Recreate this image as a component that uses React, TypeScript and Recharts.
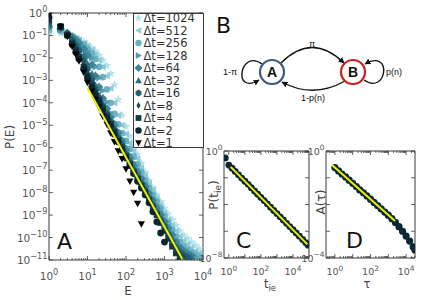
import React from 'react';
import { ComposedChart, Scatter, Line, XAxis, YAxis, ReferenceArea } from 'recharts';

// ---------- panel A: P(E) for window sizes 1..1024 ----------
const energyBins = [1, 2, 3, 4, 5, 6, 8, 10, 13, 16, 20, 25, 32, 40, 50, 63, 79, 100, 126, 158, 200, 251, 316, 398, 501, 631, 794, 1000, 1259, 1585, 1995, 2512, 3162, 3981, 5012, 6310, 7943];

const pE_dt1024 = [1.3e-1, 1.3e-1, 1e-1, 8.9e-2, 7.9e-2, 7.1e-2, 5.0e-2, 4.0e-2, 2.8e-2, 2.0e-2, 1.3e-2, 7.9e-3, 4.5e-3, 2.0e-3, 6.3e-4, 1.4e-4, 2.8e-5, 8.9e-6, 3.2e-6, 1.3e-6, 5.0e-7, 2.0e-7, 7.9e-8, 3.5e-8, 1.6e-8, 7.9e-9, 4.0e-9, 2.0e-9, 1.1e-9, 6.3e-10, 3.5e-10, 2.0e-10, 1.3e-10, 8.9e-11, 6.3e-11, 4.5e-11, 3.2e-11];
const pE_dt512 = [1.6e-1, 1.4e-1, 1.1e-1, 8.9e-2, 7.1e-2, 6.3e-2, 4.5e-2, 3.2e-2, 2.2e-2, 1.4e-2, 7.9e-3, 4.0e-3, 1.6e-3, 4.5e-4, 1e-4, 2.8e-5, 1e-5, 4.0e-6, 1.6e-6, 7.1e-7, 3.2e-7, 1.3e-7, 5.6e-8, 2.5e-8, 1.3e-8, 5.6e-9, 2.8e-9, 1.3e-9, 6.3e-10, 3.5e-10, 2.0e-10, 1.1e-10, 7.1e-11, 5.0e-11, 3.5e-11, 2.5e-11, 2.0e-11];
const pE_dt256 = [1.8e-1, 1.6e-1, 1.1e-1, 8.9e-2, 7.1e-2, 5.6e-2, 4.0e-2, 2.5e-2, 1.6e-2, 8.9e-3, 4.0e-3, 1.4e-3, 4.0e-4, 1e-4, 3.2e-5, 1.1e-5, 4.5e-6, 2.0e-6, 8.9e-7, 4.0e-7, 1.8e-7, 7.9e-8, 3.5e-8, 1.6e-8, 7.9e-9, 4.0e-9, 2.0e-9, 8.9e-10, 4.5e-10, 2.2e-10, 1.1e-10, 6.3e-11, 4.0e-11, 2.8e-11, 2.2e-11, 1.8e-11, 1.4e-11];
const pE_dt128 = [2.0e-1, 1.8e-1, 1.3e-1, 8.9e-2, 7.1e-2, 5.0e-2, 3.2e-2, 2.0e-2, 1e-2, 4.0e-3, 1.3e-3, 3.5e-4, 1.1e-4, 3.5e-5, 1.4e-5, 5.6e-6, 2.5e-6, 1.1e-6, 5.0e-7, 2.2e-7, 1.1e-7, 5.0e-8, 2.5e-8, 1.1e-8, 5.6e-9, 2.8e-9, 1.4e-9, 6.3e-10, 3.2e-10, 1.6e-10, 7.9e-11, 4.5e-11, 3.2e-11, 2.2e-11, 1.8e-11, 1.4e-11];
const pE_dt64 = [2.5e-1, 2.0e-1, 1.3e-1, 8.9e-2, 6.3e-2, 4.5e-2, 2.5e-2, 1.3e-2, 5.0e-3, 1.6e-3, 5.0e-4, 1.6e-4, 5.6e-5, 2.2e-5, 1e-5, 4.5e-6, 2.0e-6, 7.9e-7, 3.5e-7, 1.6e-7, 7.9e-8, 4.0e-8, 2.0e-8, 8.9e-9, 4.5e-9, 2.0e-9, 1e-9, 5.0e-10, 2.5e-10, 1.3e-10, 6.3e-11, 3.5e-11, 2.5e-11, 2.0e-11, 1.6e-11];
const pE_dt32 = [2.8e-1, 2.2e-1, 1.3e-1, 7.9e-2, 5.0e-2, 3.2e-2, 1.4e-2, 5.6e-3, 2.0e-3, 6.3e-4, 2.2e-4, 8.9e-5, 4.0e-5, 1.8e-5, 7.9e-6, 3.5e-6, 1.6e-6, 6.3e-7, 2.8e-7, 1.3e-7, 6.3e-8, 3.2e-8, 1.6e-8, 7.1e-9, 3.5e-9, 1.6e-9, 7.9e-10, 4.0e-10, 1.8e-10, 8.9e-11, 4.5e-11, 2.8e-11, 2.0e-11, 1.6e-11, 1.3e-11];
const pE_dt16 = [3.5e-1, 2.4e-1, 1.2e-1, 6.3e-2, 3.5e-2, 2.0e-2, 7.9e-3, 3.2e-3, 1.1e-3, 4.0e-4, 1.6e-4, 7.1e-5, 3.2e-5, 1.4e-5, 6.3e-6, 2.8e-6, 1.3e-6, 5.0e-7, 2.2e-7, 1e-7, 5.0e-8, 2.5e-8, 1.3e-8, 5.6e-9, 2.8e-9, 1.3e-9, 6.3e-10, 3.2e-10, 1.4e-10, 6.3e-11, 3.5e-11, 2.2e-11, 1.6e-11, 1.3e-11];
const pE_dt8 = [4.0e-1, 2.4e-1, 1.1e-1, 5.0e-2, 2.8e-2, 1.4e-2, 5.6e-3, 2.2e-3, 7.9e-4, 3.2e-4, 1.4e-4, 6.3e-5, 2.8e-5, 1.3e-5, 5.6e-6, 2.5e-6, 1.1e-6, 4.5e-7, 2.0e-7, 8.9e-8, 4.5e-8, 2.2e-8, 1.1e-8, 5.0e-9, 2.5e-9, 1.1e-9, 5.6e-10, 2.5e-10, 1.1e-10, 5.0e-11, 2.8e-11, 1.8e-11, 1.3e-11];
const pE_dt4 = [5.0e-1, 2.4e-1, 1.05e-1, 4.5e-2, 2.2e-2, 1.1e-2, 4.0e-3, 1.6e-3, 6.3e-4, 2.8e-4, 1.3e-4, 5.6e-5, 2.5e-5, 1.1e-5, 5.0e-6, 2.2e-6, 1e-6, 4.0e-7, 1.8e-7, 7.9e-8, 4.0e-8, 2.0e-8, 1e-8, 4.5e-9, 2.0e-9, 1e-9, 4.5e-10, 2.0e-10, 8.9e-11, 4.0e-11, 2.0e-11, 1.3e-11];
const pE_dt2 = [6.3e-1, 2.5e-1, 1e-1, 4.0e-2, 1.8e-2, 8.9e-3, 3.2e-3, 1.3e-3, 5.0e-4, 2.2e-4, 1e-4, 4.5e-5, 2.0e-5, 8.9e-6, 4.0e-6, 1.8e-6, 7.9e-7, 3.5e-7, 1.6e-7, 7.1e-8, 3.2e-8, 1.6e-8, 7.9e-9, 3.5e-9, 1.4e-9, 5.0e-10, 1.6e-10, 6.3e-11];
const pE_dt1 = [7.9e-1, 2.5e-1, 8.9e-2, 3.2e-2, 1.4e-2, 7.1e-3, 2.2e-3, 7.9e-4, 3.2e-4, 1.4e-4, 6.3e-5, 2.5e-5, 1.1e-5, 4.5e-6, 1.8e-6, 7.1e-7, 3.2e-7, 1.1e-7, 3.2e-8, 1e-8, 3.2e-9, 4.0e-10];

const windowLabels = ['Δt=1024', 'Δt=512', 'Δt=256', 'Δt=128', 'Δt=64', 'Δt=32', 'Δt=16', 'Δt=8', 'Δt=4', 'Δt=2', 'Δt=1'];
const windowColors = ['#b4e2ec', '#8fcbd7', '#6db2c1', '#4f9bad', '#3c8698', '#2d7080', '#235d6b', '#1a4b57', '#133a43', '#0c282e', '#030708'];
const windowMarkers = ['star', 'triLeft', 'circle', 'triRight', 'diamond', 'triUp', 'hexagon', 'thinDiamond', 'square', 'circle', 'triDown'];

const fitEnergy = [10, 3000];
const fitProb = [4.6e-4, 1e-11];

const energyTicks = [1, 2, 3, 4, 5, 6, 7, 8, 9, 10, 20, 30, 40, 50, 60, 70, 80, 90, 100, 200, 300, 400, 500, 600, 700, 800, 900, 1000, 2000, 3000, 4000, 5000, 6000, 7000, 8000, 9000, 10000];
const probTicks = [1, 1e-1, 1e-2, 1e-3, 1e-4, 1e-5, 1e-6, 1e-7, 1e-8, 1e-9, 1e-10, 1e-11];

// ---------- panel C: inter-event times ----------
const tieValues = [0.6, 1, 1.6, 2.5, 4, 6.3, 10, 16, 25, 40, 63, 100, 158, 251, 398, 631, 1000, 1585, 2512, 3981, 6310, 10000, 15849, 25119, 39811, 63096, 89125];
const pTie = [0.3, 0.089, 0.051, 0.0295, 0.0166, 0.0095, 0.0055, 0.0032, 0.0018, 0.00102, 5.9e-4, 3.4e-4, 1.95e-4, 1.12e-4, 6.3e-5, 3.6e-5, 2.1e-5, 1.2e-5, 6.9e-6, 3.9e-6, 2.24e-6, 1.29e-6, 7.4e-7, 4.3e-7, 2.4e-7, 1.38e-7, 9.1e-8];
const fitTie = [1.3, 80000];
const fitTieProb = [0.065, 1.05e-7];
const tieTicks = [1, 2, 3, 4, 5, 6, 7, 8, 9, 10, 20, 30, 40, 50, 60, 70, 80, 90, 100, 200, 300, 400, 500, 600, 700, 800, 900, 1000, 2000, 3000, 4000, 5000, 6000, 7000, 8000, 9000, 10000, 20000, 30000, 40000, 50000, 60000, 70000, 80000, 90000];
const tieProbTicks = [1, 1e-2, 1e-4, 1e-6, 1e-8];

// ---------- panel D: autocorrelation ----------
const tauValues = [1, 1.6, 2.5, 4, 6.3, 10, 16, 25, 40, 63, 100, 158, 251, 398, 631, 1000, 1585, 2512, 3981, 6310, 10000, 15849, 25119, 31623];
const autocorr = [0.24, 0.18, 0.138, 0.107, 0.081, 0.062, 0.047, 0.035, 0.0275, 0.021, 0.0158, 0.012, 0.0091, 0.0069, 0.0052, 0.004, 0.00295, 0.00214, 0.00148, 0.001, 6.6e-4, 4.3e-4, 2.6e-4, 2.0e-4];
const fitTau = [0.69, 2400];
const fitAutocorr = [0.3, 0.0024];
const tauTicks = [0.4, 0.5, 0.6, 0.7, 0.8, 0.9, 1, 2, 3, 4, 5, 6, 7, 8, 9, 10, 20, 30, 40, 50, 60, 70, 80, 90, 100, 200, 300, 400, 500, 600, 700, 800, 900, 1000, 2000, 3000, 4000, 5000, 6000, 7000, 8000, 9000, 10000, 20000, 30000];
const autocorrTicks = [1, 1e-1, 1e-2, 1e-3, 1e-4];

const seriesA = [pE_dt1024, pE_dt512, pE_dt256, pE_dt128, pE_dt64, pE_dt32, pE_dt16, pE_dt8, pE_dt4, pE_dt2, pE_dt1].map((vals) =>
  vals.map((p, i) => ({ x: energyBins[i], y: p }))
);
const fitA = fitEnergy.map((e, i) => ({ x: e, y: fitProb[i] }));
const dataC = tieValues.map((t, i) => ({ x: t, y: pTie[i] }));
const fitC = fitTie.map((t, i) => ({ x: t, y: fitTieProb[i] }));
const dataD = tauValues.map((t, i) => ({ x: t, y: autocorr[i] }));
const fitD = fitTau.map((t, i) => ({ x: t, y: fitAutocorr[i] }));

const FRAME = '#3a3a3a';
const TEXT = '#555';
const FONT = 'DejaVu Sans';
const DOTS = '#0c2833';
const YELLOW = '#f2f200';

const pts = (cx: number, cy: number, list: number[][]) => list.map(([a, b]) => `${cx + a},${cy + b}`).join(' ');

function Marker({ kind, cx, cy, r, fill }: any) {
  if (cx == null || cy == null) return null;
  switch (kind) {
    case 'star': {
      const list: number[][] = [];
      for (let i = 0; i < 10; i++) {
        const rad = i % 2 === 0 ? r * 1.3 : r * 0.55;
        const ang = -Math.PI / 2 + (i * Math.PI) / 5;
        list.push([rad * Math.cos(ang), rad * Math.sin(ang)]);
      }
      return <polygon points={pts(cx, cy, list)} fill={fill} />;
    }
    case 'hexagon': {
      const list: number[][] = [];
      for (let i = 0; i < 6; i++) {
        const ang = -Math.PI / 2 + (i * Math.PI) / 3;
        list.push([r * Math.cos(ang), r * Math.sin(ang)]);
      }
      return <polygon points={pts(cx, cy, list)} fill={fill} />;
    }
    case 'triUp':
      return <polygon points={pts(cx, cy, [[0, -r], [-r, r * 0.8], [r, r * 0.8]])} fill={fill} />;
    case 'triDown':
      return <polygon points={pts(cx, cy, [[0, r], [-r, -r * 0.8], [r, -r * 0.8]])} fill={fill} />;
    case 'triLeft':
      return <polygon points={pts(cx, cy, [[-r, 0], [r * 0.8, -r], [r * 0.8, r]])} fill={fill} />;
    case 'triRight':
      return <polygon points={pts(cx, cy, [[r, 0], [-r * 0.8, -r], [-r * 0.8, r]])} fill={fill} />;
    case 'diamond':
      return <polygon points={pts(cx, cy, [[0, -r * 1.2], [r * 1.2, 0], [0, r * 1.2], [-r * 1.2, 0]])} fill={fill} />;
    case 'thinDiamond':
      return <polygon points={pts(cx, cy, [[0, -r], [r * 0.6, 0], [0, r], [-r * 0.6, 0]])} fill={fill} />;
    case 'square':
      return <rect x={cx - r * 0.85} y={cy - r * 0.85} width={r * 1.7} height={r * 1.7} fill={fill} />;
    default:
      return <circle cx={cx} cy={cy} r={r * 0.95} fill={fill} />;
  }
}

function Pow10({ x, y, exp, anchor, size }: any) {
  const sup = exp < 0 ? `\u2212${-exp}` : `${exp}`;
  return (
    <text x={x} y={y} textAnchor={anchor} fontSize={size} fill={TEXT} fontFamily={FONT}>
      10<tspan dy={-size * 0.45} fontSize={size * 0.78}>{sup}</tspan>
    </text>
  );
}

function LogXTick({ x, y, payload, top, labelExps, labelDy, size }: any) {
  const lg = Math.log10(payload.value);
  const exp = Math.round(lg);
  const major = Math.abs(lg - exp) < 1e-6;
  const len = major ? 4 : 2;
  return (
    <g>
      <line x1={x} x2={x} y1={y} y2={y - len} stroke={FRAME} strokeWidth={0.8} />
      <line x1={x} x2={x} y1={top} y2={top + len} stroke={FRAME} strokeWidth={0.8} />
      {major && labelExps.includes(exp) ? <Pow10 x={x} y={y + labelDy} exp={exp} anchor="middle" size={size} /> : null}
    </g>
  );
}

function LogYTick({ x, y, payload, right, labelExps, size }: any) {
  const exp = Math.round(Math.log10(payload.value));
  return (
    <g>
      <line x1={x} x2={x + 4} y1={y} y2={y} stroke={FRAME} strokeWidth={0.8} />
      <line x1={right} x2={right - 4} y1={y} y2={y} stroke={FRAME} strokeWidth={0.8} />
      {labelExps.includes(exp) ? <Pow10 x={x - 1.5} y={y + size * 0.38} exp={exp} anchor="end" size={size} /> : null}
    </g>
  );
}

const LogPanel = ({ left, top, width, height, margin, yWidth, xDomain, yDomain, xTicks, yTicks, xLabels, yLabels, labelDy, fontSize, children }: any) => {
  const plotTop = margin.top;
  const plotRight = width - margin.right;
  return (
    <div style={{ position: 'absolute', left, top }}>
      <ComposedChart width={width} height={height} margin={margin}>
        <XAxis
          dataKey="x"
          type="number"
          scale="log"
          domain={xDomain}
          allowDataOverflow
          ticks={xTicks}
          interval={0}
          height={30}
          tickSize={0}
          tickMargin={0}
          tickLine={false}
          axisLine={false}
          tick={(p: any) => <LogXTick {...p} top={plotTop} labelExps={xLabels} labelDy={labelDy} size={fontSize} />}
        />
        <YAxis
          dataKey="y"
          type="number"
          scale="log"
          domain={yDomain}
          allowDataOverflow
          ticks={yTicks}
          interval={0}
          width={yWidth}
          tickSize={0}
          tickMargin={0}
          tickLine={false}
          axisLine={false}
          tick={(p: any) => <LogYTick {...p} right={plotRight} labelExps={yLabels} size={fontSize} />}
        />
        <ReferenceArea x1={xDomain[0]} x2={xDomain[1]} y1={yDomain[0]} y2={yDomain[1]} fill="none" stroke={FRAME} strokeWidth={1} />
        {children}
      </ComposedChart>
    </div>
  );
};

const LegendA = () => (
  <svg style={{ position: 'absolute', left: 133, top: 8 }} width={78} height={147}>
    <rect x={0.5} y={5.5} width={70} height={134} fill="#fff" stroke={FRAME} strokeWidth={1} />
    {windowLabels.map((lab, k) => (
      <g key={lab}>
        <Marker kind={windowMarkers[k]} cx={5.5} cy={10 + 12.5 * k} r={3.4} fill={windowColors[k]} />
        <text x={10.5} y={14 + 12.5 * k} fontSize={11.5} fontFamily={FONT} fill="#333">
          {lab}
        </text>
      </g>
    ))}
  </svg>
);

const Overlay = () => (
  <svg style={{ position: 'absolute', left: 0, top: 0, pointerEvents: 'none' }} width={425} height={300}>
    <defs>
      <marker id="arrowHead" viewBox="0 0 10 10" refX="9" refY="5" markerWidth="6" markerHeight="6" markerUnits="userSpaceOnUse" orient="auto">
        <path d="M0,0 L10,5 L0,10 z" fill="#111" />
      </marker>
    </defs>
    {/* axis titles */}
    <text transform="translate(14,137) rotate(-90)" textAnchor="middle" fontSize={12} fontFamily={FONT} fill="#444">P(E)</text>
    <text x={128} y={295} textAnchor="middle" fontSize={12} fontFamily={FONT} fill="#444">E</text>
    <text transform="translate(218,195) rotate(-90)" textAnchor="middle" fontSize={12} fontFamily={FONT} fill="#444">
      P(t<tspan dy={3} fontSize={9}>ie</tspan><tspan dy={-3}>)</tspan>
    </text>
    <text x={270} y={288} textAnchor="middle" fontSize={11.5} fontFamily={FONT} fill="#444">
      t<tspan dy={3} fontSize={8.5}>ie</tspan>
    </text>
    <text transform="translate(325,202) rotate(-90)" textAnchor="middle" fontSize={12} fontFamily={FONT} fill="#444">A(τ)</text>
    <text x={367} y={288} textAnchor="middle" fontSize={11.5} fontFamily={FONT} fill="#444">τ</text>
    {/* panel letters */}
    <text x={57} y={249} fontSize={22} fontFamily={FONT} fill="#111">A</text>
    <text x={216} y={33} fontSize={22} fontFamily={FONT} fill="#111">B</text>
    <text x={236} y={248} fontSize={22} fontFamily={FONT} fill="#111">C</text>
    <text x={346} y={248} fontSize={22} fontFamily={FONT} fill="#111">D</text>
    {/* panel B: two-state model */}
    <g fill="none" stroke="#111" strokeWidth={1.4}>
      <path d="M281 63 Q312 32 344 63" markerEnd="url(#arrowHead)" />
      <path d="M345 81 Q313 99 282 82" markerEnd="url(#arrowHead)" />
      <path d="M262 64 C240 48, 232 96, 259 80" markerEnd="url(#arrowHead)" />
      <path d="M364 80 C387 96, 393 48, 365 64" markerEnd="url(#arrowHead)" />
    </g>
    <circle cx={272} cy={72} r={12} fill="#fff" stroke="#3b5a85" strokeWidth={2.2} />
    <circle cx={353} cy={72} r={12} fill="#fff" stroke="#cc1f1f" strokeWidth={2.2} />
    <text x={272} y={77} textAnchor="middle" fontSize={14} fontWeight="bold" fontFamily="Liberation Sans" fill="#111">A</text>
    <text x={353} y={77} textAnchor="middle" fontSize={14} fontWeight="bold" fontFamily="Liberation Sans" fill="#111">B</text>
    <g fontSize={9} fontFamily="Liberation Sans" fill="#111" textAnchor="middle">
      <text x={312} y={47}>π</text>
      <text x={313} y={101}>1-p(n)</text>
      <text x={230} y={75}>1-π</text>
      <text x={394} y={75}>p(n)</text>
    </g>
  </svg>
);

export default function App() {
  return (
    <div style={{ position: 'absolute', left: 0, top: 0, width: 425, height: 300, background: '#fff', overflow: 'hidden', fontFamily: FONT }}>
      <LogPanel
        left={0}
        top={0}
        width={215}
        height={300}
        margin={{ top: 13, right: 12, bottom: 10, left: 0 }}
        yWidth={49}
        xDomain={[1, 10000]}
        yDomain={[1e-11, 1]}
        xTicks={energyTicks}
        yTicks={probTicks}
        xLabels={[0, 1, 2, 3, 4]}
        yLabels={[0, -1, -2, -3, -4, -5, -6, -7, -8, -9, -10, -11]}
        labelDy={20}
        fontSize={10.5}
      >
        {seriesA.map((d, k) => (
          <Scatter
            key={windowLabels[k]}
            data={d}
            isAnimationActive={false}
            shape={(p: any) => <Marker kind={windowMarkers[k]} cx={p.cx} cy={p.cy} r={3.6} fill={windowColors[k]} />}
          />
        ))}
        <Line data={fitA} dataKey="y" stroke={YELLOW} strokeWidth={2} dot={false} isAnimationActive={false} zIndex={700} />
      </LogPanel>

      <LogPanel
        left={188}
        top={140}
        width={127}
        height={160}
        margin={{ top: 11, right: 6, bottom: 12, left: 0 }}
        yWidth={36}
        xDomain={[0.5, 100000]}
        yDomain={[1e-8, 1]}
        xTicks={tieTicks}
        yTicks={tieProbTicks}
        xLabels={[0, 2, 4]}
        yLabels={[0, -8]}
        labelDy={17}
        fontSize={9.5}
      >
        <Scatter data={dataC} isAnimationActive={false} shape={(p: any) => <Marker kind="circle" cx={p.cx} cy={p.cy} r={3.6} fill={DOTS} />} />
        <Line data={fitC} dataKey="y" stroke={YELLOW} strokeWidth={2} dot={false} isAnimationActive={false} zIndex={700} />
      </LogPanel>

      <LogPanel
        left={293}
        top={140}
        width={132}
        height={160}
        margin={{ top: 11, right: 10, bottom: 12, left: 0 }}
        yWidth={33}
        xDomain={[0.316, 31623]}
        yDomain={[1e-4, 1]}
        xTicks={tauTicks}
        yTicks={autocorrTicks}
        xLabels={[0, 2, 4]}
        yLabels={[0, -4]}
        labelDy={17}
        fontSize={9.5}
      >
        <Scatter data={dataD} isAnimationActive={false} shape={(p: any) => <Marker kind="circle" cx={p.cx} cy={p.cy} r={3.8} fill={DOTS} />} />
        <Line data={fitD} dataKey="y" stroke={YELLOW} strokeWidth={2} dot={false} isAnimationActive={false} zIndex={700} />
      </LogPanel>

      <LegendA />
      <Overlay />
    </div>
  );
}
